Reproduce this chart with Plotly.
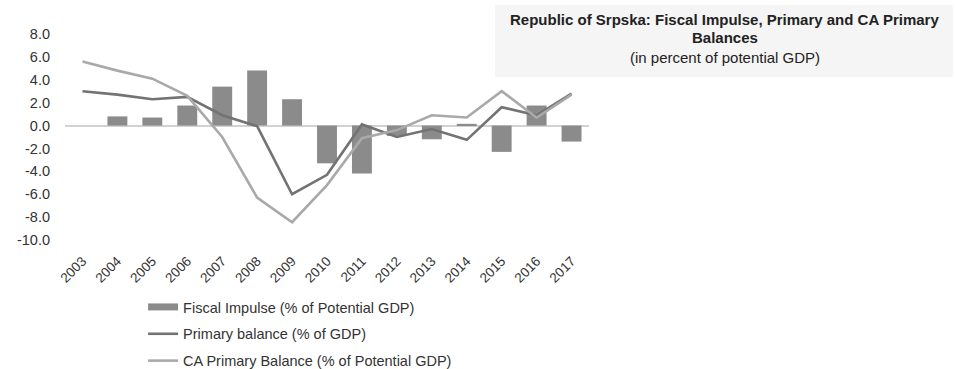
import plotly.graph_objects as go

years = ["2003", "2004", "2005", "2006", "2007", "2008", "2009", "2010",
         "2011", "2012", "2013", "2014", "2015", "2016", "2017"]
fiscal_impulse = [None, 0.8, 0.7, 1.75, 3.4, 4.8, 2.3, -3.3,
                  -4.2, -0.9, -1.2, 0.15, -2.3, 1.75, -1.4]
primary_balance = [3.0, 2.7, 2.3, 2.5, 0.9, -0.05, -6.0, -4.3,
                   0.1, -1.0, -0.3, -1.25, 1.6, 0.9, 2.8]
ca_primary_balance = [5.6, 4.8, 4.1, 2.6, -1.0, -6.3, -8.45, -5.2,
                      -1.1, -0.4, 0.9, 0.7, 3.0, 0.7, 2.7]
y_ticks = [8, 6, 4, 2, 0, -2, -4, -6, -8, -10]

FONT = "Liberation Sans, Arial, sans-serif"
BAR_COLOR = "#8b8b8b"

fig = go.Figure()
fig.add_trace(go.Bar(
    x=years, y=fiscal_impulse, name="Fiscal Impulse (% of Potential GDP)",
    marker=dict(color=BAR_COLOR, line=dict(width=0)), width=0.57,
    legendgroup="a", showlegend=False,
))
# legend key for the bars, drawn as a wide block
fig.add_trace(go.Scatter(
    x=[None], y=[None], name="Fiscal Impulse (% of Potential GDP)",
    mode="lines", line=dict(color=BAR_COLOR, width=7), legendgroup="a",
))
fig.add_trace(go.Scatter(
    x=years, y=primary_balance, name="Primary balance (% of GDP)",
    mode="lines", line=dict(color="#737373", width=2.6), legendgroup="b",
))
fig.add_trace(go.Scatter(
    x=years, y=ca_primary_balance, name="CA Primary Balance (% of Potential GDP)",
    mode="lines", line=dict(color="#a9a9a9", width=2.6), legendgroup="c",
))

# title panel on the right
fig.add_shape(type="rect", xref="paper", yref="paper",
              x0=0.8206, x1=1.6947, y0=0.791, y1=1.1408,
              fillcolor="#f5f5f5", line=dict(width=0), layer="below")
title_lines = [
    ("<b>Republic of Srpska: Fiscal Impulse, Primary and CA Primary</b>", 1.068),
    ("<b>Balances</b>", 0.9806),
    ("(in percent of potential GDP)", 0.888),
]
for txt, ypos in title_lines:
    fig.add_annotation(
        xref="paper", yref="paper", x=1.2595, y=ypos,
        xanchor="center", yanchor="middle", text=txt, showarrow=False,
        font=dict(family=FONT, size=15, color="#222222"),
    )

fig.update_layout(
    width=956, height=369,
    margin=dict(l=65, r=367, t=34, b=129, autoexpand=False),
    paper_bgcolor="white", plot_bgcolor="white",
    font=dict(family=FONT, size=14, color="#333333"),
    bargap=0.43,
    showlegend=True,
    legend=dict(
        x=0.149, y=-0.2476, xanchor="left", yanchor="top",
        orientation="v", traceorder="grouped", tracegroupgap=5,
        font=dict(family=FONT, size=14.5, color="#333333"),
        bgcolor="rgba(0,0,0,0)", itemwidth=30,
    ),
    xaxis=dict(
        type="category", tickangle=-45, showgrid=False, showline=False,
        ticks="outside", ticklen=7, tickcolor="rgba(0,0,0,0)",
        tickfont=dict(size=13.5, color="#333333"),
    ),
    yaxis=dict(
        range=[-10, 8], tickvals=y_ticks,
        ticktext=[f"{v:.1f}" for v in y_ticks],
        showgrid=False, showline=False, ticks="", ticklabelstandoff=14,
        zeroline=True, zerolinecolor="#d2d2d2", zerolinewidth=1.5,
        tickfont=dict(size=14.5, color="#333333"),
    ),
)

fig.write_html("out.html")
